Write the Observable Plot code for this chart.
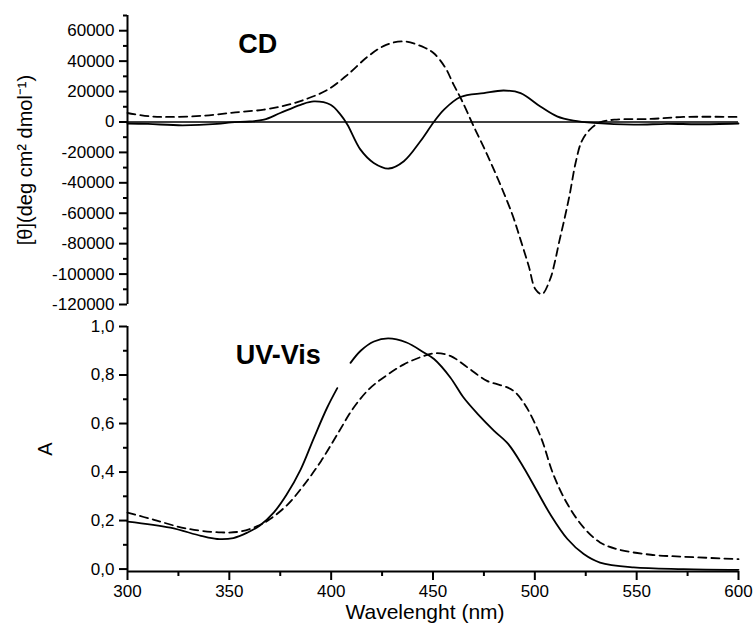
<!DOCTYPE html>
<html><head><meta charset="utf-8">
<script src="https://cdn.jsdelivr.net/npm/d3@7"></script>
<script src="https://cdn.jsdelivr.net/npm/@observablehq/plot@0.6"></script>
<style>
body{margin:0;background:#fff;}
#c{width:754px;height:624px;}
#c svg{display:block;}
</style>
</head><body><div id="c"></div>
<script>
// ---- Data ----
const xDomain = [300, 600];
const xTicks = [300, 350, 400, 450, 500, 550, 600];
const xMinorTicks = [325, 375, 425, 475, 525, 575];

const cdDomain = [-120000, 70000];
const cdTicks = [60000, 40000, 20000, 0, -20000, -40000, -60000, -80000, -100000, -120000];
const cdMinorTicks = [70000, 50000, 30000, 10000, -10000, -30000, -50000, -70000, -90000, -110000];

const uvDomain = [-0.01, 1.0];
const uvTicks = [0, 0.2, 0.4, 0.6, 0.8, 1.0];
const uvTickLabels = ["0,0", "0,2", "0,4", "0,6", "0,8", "1,0"];
const uvMinorTicks = [0.1, 0.3, 0.5, 0.7, 0.9];

// CD, solid curve
const cdSolidWl  = [300, 310, 327, 344, 351, 360, 367, 375, 385, 391.5, 399.7, 404.6, 408, 414.4, 420.9, 428.3, 435.7, 443.8, 450.4, 455.3, 463.5, 475, 484.7, 493, 502.7, 510.9, 519, 528.9, 548.6, 565, 580, 600];
const cdSolidVal = [-1000, -1300, -2200, -1300, -250, 300, 1500, 5900, 11300, 13500, 11300, 4800, -1800, -18200, -26900, -30600, -25800, -12700, 0, 8000, 16400, 19000, 20700, 19000, 10200, 3700, 850, -650, -1800, -1200, -1500, -1000];

// CD, dashed curve
const cdDashWl  = [300, 311, 321, 337, 353, 367, 378, 388, 398, 408, 418, 427, 436, 446, 450.4, 456, 460, 464, 470, 476.6, 483, 489, 493, 497, 500.3, 503.5, 507.5, 510, 512, 514.5, 517, 520, 523, 527, 532, 539, 557, 573, 600];
const cdDashVal = [5900, 3700, 3300, 4100, 6300, 8100, 11000, 15200, 21000, 31000, 43000, 50700, 52900, 48800, 45200, 35800, 24900, 14600, -2900, -21500, -41000, -61000, -77500, -94700, -110000, -113200, -103400, -91000, -78500, -64000, -48500, -27000, -12700, -5000, -300, 1500, 2000, 3300, 3300];

// UV-Vis, solid curve (gap near 406 nm)
const uvSolidWl = [300, 321, 336, 344, 352, 359, 365, 372, 378, 385, 391.5, 398, 403, 406, 409.5, 414.5, 421, 428, 437, 445.5, 450.5, 458.5, 465, 472, 480, 487, 494.5, 501, 507.5, 516, 524, 532, 548.5, 573, 600];
const uvSolidVal = [0.196, 0.171, 0.137, 0.124, 0.128, 0.151, 0.180, 0.235, 0.305, 0.410, 0.540, 0.665, 0.746, null, 0.850, 0.900, 0.938, 0.951, 0.934, 0.893, 0.866, 0.790, 0.707, 0.639, 0.570, 0.515, 0.419, 0.323, 0.227, 0.124, 0.062, 0.027, 0.007, 0.0, -0.003];

// UV-Vis, dashed curve
const uvDashWl  = [300, 313, 329, 346, 355.5, 364, 370, 378.5, 386.5, 395, 403, 411, 419, 427.5, 435.5, 444, 451, 458.5, 467, 476.5, 486.5, 490.5, 496, 503, 509, 516, 524, 532, 540.5, 557, 573, 600];
const uvDashVal = [0.233, 0.203, 0.167, 0.151, 0.155, 0.178, 0.206, 0.265, 0.345, 0.445, 0.555, 0.665, 0.745, 0.800, 0.843, 0.874, 0.890, 0.879, 0.831, 0.776, 0.749, 0.728, 0.666, 0.543, 0.392, 0.268, 0.171, 0.110, 0.082, 0.059, 0.051, 0.041];

// Panel annotations
const cdLabel = [{text: "CD", wl: 364, v: 50700}];
const uvLabel = [{text: "UV-Vis", wl: 374, v: 0.879}];

const xTitle = "Wavelenght (nm)";
const cdTitle = "[θ](deg cm² dmol⁻¹)";
const uvTitle = "A";

// ---- Build tables ----
const toRows = (w, v) => w.map((d, i) => ({wl: d, v: v[i]}));
const cdSolid = toRows(cdSolidWl, cdSolidVal);
const cdDash = toRows(cdDashWl, cdDashVal);
const uvSolid = toRows(uvSolidWl, uvSolidVal);
const uvDash = toRows(uvDashWl, uvDashVal);

const font = "'Liberation Sans', Arial, Helvetica, sans-serif";
const baseStyle = {fontFamily: font, fontSize: "17px", color: "#000", background: "#fff", overflow: "visible"};
const lineW = 1.8, axisW = 2;
const noText = () => "";
const curve = "catmull-rom";

const topPlot = Plot.plot({
  width: 754, height: 310,
  marginLeft: 127, marginRight: 16, marginTop: 15, marginBottom: 6,
  style: baseStyle,
  x: {domain: xDomain, axis: null},
  y: {domain: cdDomain},
  marks: [
    Plot.ruleY([0], {stroke: "#000", strokeWidth: 1.5}),
    Plot.ruleX([xDomain[0]], {stroke: "#000", strokeWidth: axisW}),
    Plot.axisY(cdMinorTicks, {tickSize: 4, strokeWidth: axisW, tickFormat: noText, label: null}),
    Plot.axisY(cdTicks, {tickSize: 8, tickPadding: 5, strokeWidth: axisW, tickFormat: d => String(d),
      label: cdTitle, labelAnchor: "center", labelOffset: 110, labelArrow: "none"}),
    Plot.line(cdSolid, {x: "wl", y: "v", curve, stroke: "#000", strokeWidth: lineW}),
    Plot.line(cdDash, {x: "wl", y: "v", curve, stroke: "#000", strokeWidth: lineW, strokeDasharray: "8,5"}),
    Plot.text(cdLabel, {x: "wl", y: "v", text: "text", fontSize: 27, fontWeight: "bold", fill: "#000"})
  ]
});

const botPlot = Plot.plot({
  width: 754, height: 314,
  marginLeft: 127, marginRight: 16, marginTop: 16, marginBottom: 53,
  style: baseStyle,
  x: {domain: xDomain},
  y: {domain: uvDomain},
  marks: [
    Plot.ruleX([xDomain[0]], {stroke: "#000", strokeWidth: axisW}),
    Plot.ruleY([uvDomain[0]], {stroke: "#000", strokeWidth: axisW}),
    Plot.axisY(uvMinorTicks, {tickSize: 4, strokeWidth: axisW, tickFormat: noText, label: null}),
    Plot.axisY(uvTicks, {tickSize: 8, tickPadding: 5, strokeWidth: axisW,
      tickFormat: d => uvTickLabels[uvTicks.indexOf(d)],
      label: uvTitle, labelAnchor: "center", labelOffset: 90, labelArrow: "none"}),
    Plot.axisX(xMinorTicks, {tickSize: 5, strokeWidth: axisW, tickFormat: noText, label: null}),
    Plot.axisX(xTicks, {tickSize: 9, tickPadding: 4, strokeWidth: axisW, tickFormat: d => String(d),
      label: xTitle, labelAnchor: "center", labelOffset: 47, labelArrow: "none"}),
    Plot.line(uvSolid, {x: "wl", y: "v", curve, stroke: "#000", strokeWidth: lineW}),
    Plot.line(uvDash, {x: "wl", y: "v", curve, stroke: "#000", strokeWidth: lineW, strokeDasharray: "8,5"}),
    Plot.text(uvLabel, {x: "wl", y: "v", text: "text", fontSize: 27, fontWeight: "bold", fill: "#000"})
  ]
});

const c = document.getElementById("c");
c.appendChild(topPlot);
c.appendChild(botPlot);
// Axis titles slightly larger than tick labels
for (const svg of [topPlot, botPlot]) {
  d3.select(svg).selectAll('g[aria-label="y-axis label"]').attr("font-size", 20);
}
d3.select(botPlot).selectAll('g[aria-label="x-axis label"]').attr("font-size", 21)
  .attr("transform", function() { const t = this.getAttribute("transform") || ""; return t + " translate(-8,0)"; });
</script>
</body></html>
